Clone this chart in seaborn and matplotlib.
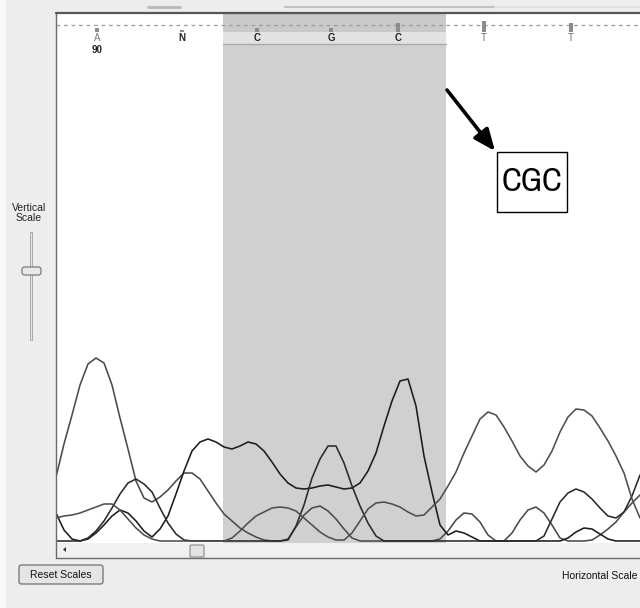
import matplotlib
matplotlib.use("Agg")
import matplotlib.pyplot as plt
from matplotlib.patches import Rectangle, FancyBboxPatch, Polygon
import seaborn as sns
import pandas as pd

# ---------------- data (scan position, trace intensities) ----------------
scan = [0, 8, 16, 24, 32, 40, 48, 56, 64, 72, 80, 88, 96, 104, 112, 120, 128, 136,
        144, 152, 160, 168, 176, 184, 192, 200, 208, 216, 224, 232, 240, 248, 256,
        264, 272, 280, 288, 296, 304, 312, 320, 328, 336, 344, 352, 360, 368, 376,
        384, 392, 400, 408, 416, 424, 432, 440, 448, 456, 464, 472, 480, 488, 496,
        504, 512, 520, 528, 536, 544, 552, 560, 568, 576, 584]

trace_A = [64, 97, 126, 156, 177, 183, 178, 156, 123, 92, 60, 43, 39, 44, 51, 60, 68, 68,
           62, 50, 38, 27, 20, 13, 8, 4, 1, 0, 0, 2, 14, 26, 33, 35, 30, 22, 12, 3,
           0, 0, 0, 0, 0, 0, 0, 0, 0, 0, 2, 10, 21, 28, 27, 19, 6, 0, 0, 8, 21, 31,
           34, 28, 16, 3, 0, 0, 0, 1, 6, 12, 19, 29, 38, 46]

trace_C = [28, 11, 2, 0, 2, 8, 16, 25, 31, 28, 20, 10, 4, 12, 25, 47, 70, 90,
           99, 102, 99, 94, 92, 95, 99, 97, 90, 79, 67, 58, 53, 52, 53, 55, 56, 54,
           52, 53, 58, 70, 88, 115, 140, 160, 162, 135, 85, 49, 16, 6, 10, 8, 4, 0,
           0, 0, 0, 0, 0, 0, 0, 0, 0, 0, 3, 9, 13, 12, 7, 2, 0, 0, 0, 0]

trace_G = [0, 0, 0, 0, 3, 10, 20, 33, 47, 58, 62, 57, 49, 33, 18, 7, 1, 0,
           0, 0, 0, 0, 0, 0, 0, 0, 0, 0, 0, 1, 15, 36, 63, 82, 95, 95, 78, 55,
           35, 18, 5, 0, 0, 0, 0, 0, 0, 0, 0, 0, 0, 0, 0, 0, 0, 0, 0, 0, 0, 0,
           0, 5, 22, 39, 48, 52, 49, 42, 33, 25, 23, 29, 45, 66]

trace_T = [23, 25, 26, 28, 31, 34, 37, 37, 31, 22, 13, 6, 2, 0, 0, 0, 0, 0,
           0, 0, 0, 0, 3, 10, 18, 25, 29, 33, 34, 33, 30, 23, 16, 9, 4, 1, 1, 8,
           20, 32, 38, 39, 37, 34, 29, 25, 26, 34, 42, 55, 69, 88, 105, 122, 129, 126,
           114, 100, 85, 75, 69, 76, 90, 109, 124, 132, 131, 125, 113, 100, 85, 68, 42, 23]

base_calls = ["A", "N", "C", "G", "C", "T", "T"]
base_pos = [41, 126, 201, 275, 342, 428, 515]
base_quality = [4, 2, 4, 4, 9, 11, 9]
base_number = "90"
highlight = (167, 390)
annotation = "CGC"

W, H = 640, 608
def fx(px):
    return px / W
def fy(py):
    return 1 - py / H

sns.set_style("white")
plt.rcParams["font.family"] = ["Liberation Sans", "DejaVu Sans"]

fig = plt.figure(figsize=(6.4, 6.08), dpi=100)
fig.patch.set_facecolor("#ededed")

# light strip at far left and faint UI remnants at top
fig.patches.append(Rectangle((0, 0), fx(6), 1, transform=fig.transFigure,
                             facecolor="#f7f7f7", edgecolor="none", zorder=0))
fig.add_artist(plt.Line2D([fx(148), fx(180)], [fy(6.5), fy(6.5)], color="#b8b8b8", lw=2))
fig.add_artist(plt.Line2D([fx(285), fx(495)], [fy(6.5), fy(6.5)], color="#c2c2c2", lw=1.5))
fig.add_artist(plt.Line2D([fx(495), fx(640)], [fy(6.5), fy(6.5)], color="#e2e2e2", lw=1.5))

# ---------------- trace axes ----------------
ax = fig.add_axes([fx(56.5), fy(543), fx(640) - fx(56.5), fy(14) - fy(543)])
ax.set_facecolor("white")
ax.set_xlim(0.5, 584)
ax.set_ylim(-2, 527)

ax.axvspan(highlight[0], highlight[1], color="#d0d0d0", zorder=0, lw=0)
ax.add_patch(Rectangle((highlight[0], 509), highlight[1] - highlight[0], 18,
                       facecolor="#c9c9c9", edgecolor="none", zorder=0.5))
ax.add_patch(Rectangle((highlight[0], 497), highlight[1] - highlight[0], 12,
                       facecolor="#e2e2e2", edgecolor="none", zorder=0.5))
ax.plot([highlight[0], highlight[1]], [497, 497], color="#a9a9a9", lw=1, zorder=0.6)

df = pd.concat([
    pd.DataFrame({"scan": scan, "signal": trace_A, "base": "A"}),
    pd.DataFrame({"scan": scan, "signal": trace_C, "base": "C"}),
    pd.DataFrame({"scan": scan, "signal": trace_G, "base": "G"}),
    pd.DataFrame({"scan": scan, "signal": trace_T, "base": "T"}),
])
palette = {"A": "#4a4a4a", "C": "#1c1c1c", "G": "#2a2a2a", "T": "#4e4e4e"}
sns.lineplot(data=df, x="scan", y="signal", hue="base", palette=palette,
             estimator=None, sort=False, lw=1.15, legend=False, ax=ax, zorder=3)

# header: dashed line, quality bars, letters
ax.plot([0, 584], [516, 516], color="#9a9a9a", lw=0.9, ls=(0, (3, 3)), zorder=2)
letter_colors = {"A": "#7a7a7a", "N": "#222222", "C": "#222222", "G": "#222222", "T": "#6a6a6a"}
for b, p, q in zip(base_calls, base_pos, base_quality):
    ax.add_patch(Rectangle((p - 2, 509), 4, q, facecolor="#8c8c8c", edgecolor="none", zorder=2.5))
    ax.text(p, 503, b, ha="center", va="center", fontsize=7, color=letter_colors[b],
            fontweight="bold" if b not in ("A", "T") else "normal", zorder=4)
ax.text(base_pos[0], 491, base_number, ha="center", va="center", fontsize=7,
        color="#222222", fontweight="bold", zorder=4)

# annotation arrow and box
ax.annotate("", xy=(439, 390), xytext=(391, 451),
            arrowprops=dict(arrowstyle="-|>,head_length=1.3,head_width=0.55",
                            color="black", lw=2.6, shrinkA=0, shrinkB=0), zorder=5)
ax.add_patch(Rectangle((441, 329), 70, 60, facecolor="white", edgecolor="black",
                       lw=1, zorder=5))
ax.text(476, 359, annotation, ha="center", va="center", fontsize=24,
        family=["Archivo Narrow", "Liberation Sans", "DejaVu Sans"],
        fontweight="medium", color="black", zorder=6)

ax.set_xticks([])
ax.set_yticks([])
ax.set_xlabel("")
ax.set_ylabel("")
for s in ax.spines.values():
    s.set_visible(False)

# ---------------- frame, scrollbar ----------------
fig.patches.append(Rectangle((fx(56), fy(557)), fx(640) - fx(56), fy(543) - fy(557),
                             transform=fig.transFigure, facecolor="#f1f1f1",
                             edgecolor="none", zorder=1))
fig.add_artist(plt.Line2D([fx(56), fx(56)], [fy(558), fy(13)], color="#6a6a6a", lw=1))
fig.add_artist(plt.Line2D([fx(56), fx(640)], [fy(13.3), fy(13.3)], color="#555555", lw=1.6))
fig.add_artist(plt.Line2D([fx(56), fx(640)], [fy(558), fy(558)], color="#6a6a6a", lw=1))
fig.patches.append(FancyBboxPatch((fx(190), fy(557)), fx(14), fy(545) - fy(557),
                                  boxstyle="round,pad=0,rounding_size=0.002",
                                  transform=fig.transFigure, facecolor="#e2e2e2",
                                  edgecolor="#8a8a8a", lw=0.8, zorder=2))
fig.patches.append(Polygon([(fx(63), fy(549.5)), (fx(66), fy(547)), (fx(66), fy(552))],
                           closed=True, transform=fig.transFigure,
                           facecolor="#333333", edgecolor="none", zorder=2))

# ---------------- vertical scale slider ----------------
fig.text(fx(29), fy(208), "Vertical", ha="center", va="center", fontsize=7.5, color="#222222")
fig.text(fx(29), fy(218), "Scale", ha="center", va="center", fontsize=7.5, color="#222222")
fig.patches.append(Rectangle((fx(29.5), fy(340)), fx(2.5), fy(232) - fy(340),
                             transform=fig.transFigure, facecolor="#e6e6e6",
                             edgecolor="#a8a8a8", lw=0.7, zorder=2))
fig.patches.append(FancyBboxPatch((fx(22), fy(275)), fx(19), fy(267) - fy(275),
                                  boxstyle="round,pad=0,rounding_size=0.004",
                                  transform=fig.transFigure, facecolor="#e9e9e9",
                                  edgecolor="#6e6e6e", lw=0.8, zorder=3))

# ---------------- bottom controls ----------------
fig.patches.append(FancyBboxPatch((fx(19), fy(584)), fx(84), fy(565) - fy(584),
                                  boxstyle="round,pad=0,rounding_size=0.004",
                                  transform=fig.transFigure, facecolor="#e5e5e5",
                                  edgecolor="#707070", lw=0.9, zorder=2))
fig.text(fx(60.5), fy(574.5), "Reset Scales", ha="center", va="center", fontsize=7.5,
         color="#111111", zorder=3)
fig.text(fx(638), fy(576), "Horizontal Scale", ha="right", va="center", fontsize=7.5,
         color="#111111")

fig.savefig("out.png", dpi=100)
